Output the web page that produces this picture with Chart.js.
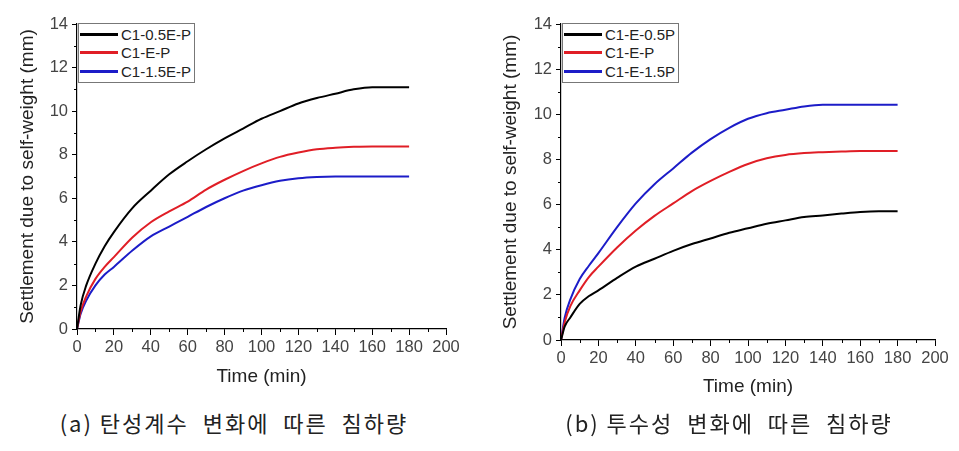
<!DOCTYPE html>
<html>
<head>
<meta charset="utf-8">
<script src="https://cdn.jsdelivr.net/npm/chart.js@4.4.1/dist/chart.umd.min.js"></script>
<style>
  body { margin: 0; background: #fff; width: 959px; height: 451px; overflow: hidden; position: relative; font-family: "Liberation Sans", Arial, sans-serif; }
  .panel { position: absolute; top: 0; }
  .legend { position: absolute; border: 1px solid #777; background: #fff; padding: 1px 3px 1px 1px; font-size: 15px; color: #222; }
  .legend .row { display: flex; align-items: center; height: 18.5px; }
  .legend .sw { display: inline-block; width: 38px; height: 3px; margin-right: 3px; }
  .caption { position: absolute; font-family: "Noto Sans CJK KR", sans-serif; font-size: 22px; line-height: 28px; color: #222; white-space: pre; transform: translateX(-50%); letter-spacing: 2px; }
</style>
</head>
<body>
<div class="panel" style="left:0;width:480px;height:400px"><canvas id="chartA"></canvas></div>
<div class="panel" style="left:480px;width:479px;height:410px"><canvas id="chartB"></canvas></div>
<div class="legend" id="legA" style="left:78px;top:23px"></div>
<div class="legend" id="legB" style="left:562px;top:23px"></div>
<div class="caption" style="left:234px;top:408px">(a) 탄성계수  변화에  따른  침하량</div>
<div class="caption" style="left:729px;top:408px">(b) 투수성  변화에  따른  침하량</div>
<script>
// 시간 (min)
const timeMin = [0, 2, 5, 10, 15, 20, 30, 40, 50, 60, 70, 80, 90, 100, 110, 120, 130, 140, 150, 160, 170, 180];

// (a) 탄성계수 변화
const labelsA = ['C1-0.5E-P', 'C1-E-P', 'C1-1.5E-P'];
const a05E = [0, 1.1, 2.0, 3.0, 3.8, 4.45, 5.55, 6.35, 7.1, 7.7, 8.25, 8.75, 9.2, 9.65, 10.0, 10.35, 10.6, 10.8, 11.0, 11.1, 11.1, 11.1];
const aE   = [0, 0.8, 1.5, 2.3, 2.85, 3.3, 4.2, 4.9, 5.4, 5.85, 6.4, 6.85, 7.25, 7.6, 7.9, 8.1, 8.25, 8.32, 8.36, 8.38, 8.38, 8.38];
const a15E = [0, 0.7, 1.3, 2.0, 2.5, 2.85, 3.6, 4.25, 4.7, 5.15, 5.6, 6.0, 6.35, 6.6, 6.8, 6.92, 6.98, 7.0, 7.0, 7.0, 7.0, 7.0];

// (b) 투수성 변화
const labelsB = ['C1-E-0.5P', 'C1-E-P', 'C1-E-1.5P'];
const b05P = [0, 0.6, 1.0, 1.6, 1.95, 2.2, 2.75, 3.25, 3.6, 3.95, 4.25, 4.5, 4.75, 4.95, 5.15, 5.3, 5.45, 5.52, 5.6, 5.67, 5.7, 5.7];
const bP   = [0, 0.8, 1.5, 2.2, 2.8, 3.25, 4.1, 4.85, 5.5, 6.05, 6.6, 7.05, 7.45, 7.8, 8.05, 8.2, 8.28, 8.32, 8.35, 8.37, 8.37, 8.37];
const b15P = [0, 1.0, 1.8, 2.7, 3.3, 3.85, 5.0, 6.05, 6.9, 7.6, 8.3, 8.9, 9.4, 9.8, 10.05, 10.2, 10.35, 10.42, 10.42, 10.42, 10.42, 10.42];

const xTicks = [0, 20, 40, 60, 80, 100, 120, 140, 160, 180, 200];
const yTicks = [0, 2, 4, 6, 8, 10, 12, 14];
const colors = ['#000000', '#e01e26', '#1c1cc8'];

// 보조 눈금 (minor ticks)
const minorTicks = {
  id: 'minorTicks',
  afterDraw(chart) {
    const ctx = chart.ctx, x = chart.scales.x, y = chart.scales.y;
    ctx.save();
    ctx.strokeStyle = '#000';
    ctx.lineWidth = 1;
    ctx.beginPath();
    for (let v = 10; v < 200; v += 20) {
      const px = Math.round(x.getPixelForValue(v)) + 0.5;
      ctx.moveTo(px, y.bottom);
      ctx.lineTo(px, y.bottom + 3);
    }
    for (let v = 1; v < 14; v += 2) {
      const py = Math.round(y.getPixelForValue(v)) + 0.5;
      ctx.moveTo(x.left, py);
      ctx.lineTo(x.left - 3, py);
    }
    ctx.stroke();
    ctx.restore();
  }
};

function makeChart(id, labels, series, g) {
  return new Chart(document.getElementById(id), {
    type: 'line',
    data: {
      datasets: series.map((s, i) => ({
        label: labels[i],
        data: timeMin.map((t, k) => ({ x: t, y: s[k] })),
        borderColor: colors[i],
        borderWidth: 2,
        pointRadius: 0,
        cubicInterpolationMode: 'monotone',
        fill: false
      }))
    },
    options: {
      responsive: true, maintainAspectRatio: false, animation: false,
      layout: { padding: { left: 0, top: 24, right: g.right, bottom: 0 } },
      plugins: { legend: { display: false }, tooltip: { enabled: false } },
      scales: {
        x: {
          type: 'linear', min: 0, max: 200,
          afterBuildTicks: s => { s.ticks = xTicks.map(v => ({ value: v })); },
          afterFit: s => { s.height = g.xh; },
          ticks: { color: '#444', font: { family: 'Liberation Sans', size: 16.5 }, padding: 3, maxRotation: 0 },
          grid: { drawOnChartArea: false, tickLength: 6, tickColor: '#000' },
          border: { color: '#000', width: 1.2 },
          title: { display: true, text: 'Time (min)', color: '#222', font: { family: 'Liberation Sans', size: 19 }, padding: { top: 0, bottom: g.xtp } }
        },
        y: {
          min: 0, max: 14,
          afterBuildTicks: s => { s.ticks = yTicks.map(v => ({ value: v })); },
          afterFit: s => { s.width = g.yw; },
          ticks: { color: '#444', font: { family: 'Liberation Sans', size: 16.5 }, padding: 4 },
          grid: { drawOnChartArea: false, tickLength: 5, tickColor: '#000' },
          border: { color: '#000', width: 1.2 },
          title: { display: true, text: 'Settlement due to self-weight (mm)', color: '#222', font: { family: 'Liberation Sans', size: 19 }, padding: { top: g.ytp, bottom: 0 } }
        }
      }
    },
    plugins: [minorTicks]
  });
}

function buildLegend(chart, el) {
  el.innerHTML = chart.data.datasets.map(d =>
    `<div class="row"><span class="sw" style="background:${d.borderColor}"></span>${d.label}</div>`
  ).join('');
}

const chartA = makeChart('chartA', labelsA, [a05E, aE, a15E], { right: 34, xh: 71, xtp: 12, yw: 77, ytp: 16 });
const chartB = makeChart('chartB', labelsB, [b05P, bP, b15P], { right: 24, xh: 70, xtp: 12, yw: 81, ytp: 19 });
buildLegend(chartA, document.getElementById('legA'));
buildLegend(chartB, document.getElementById('legB'));
</script>
</body>
</html>
